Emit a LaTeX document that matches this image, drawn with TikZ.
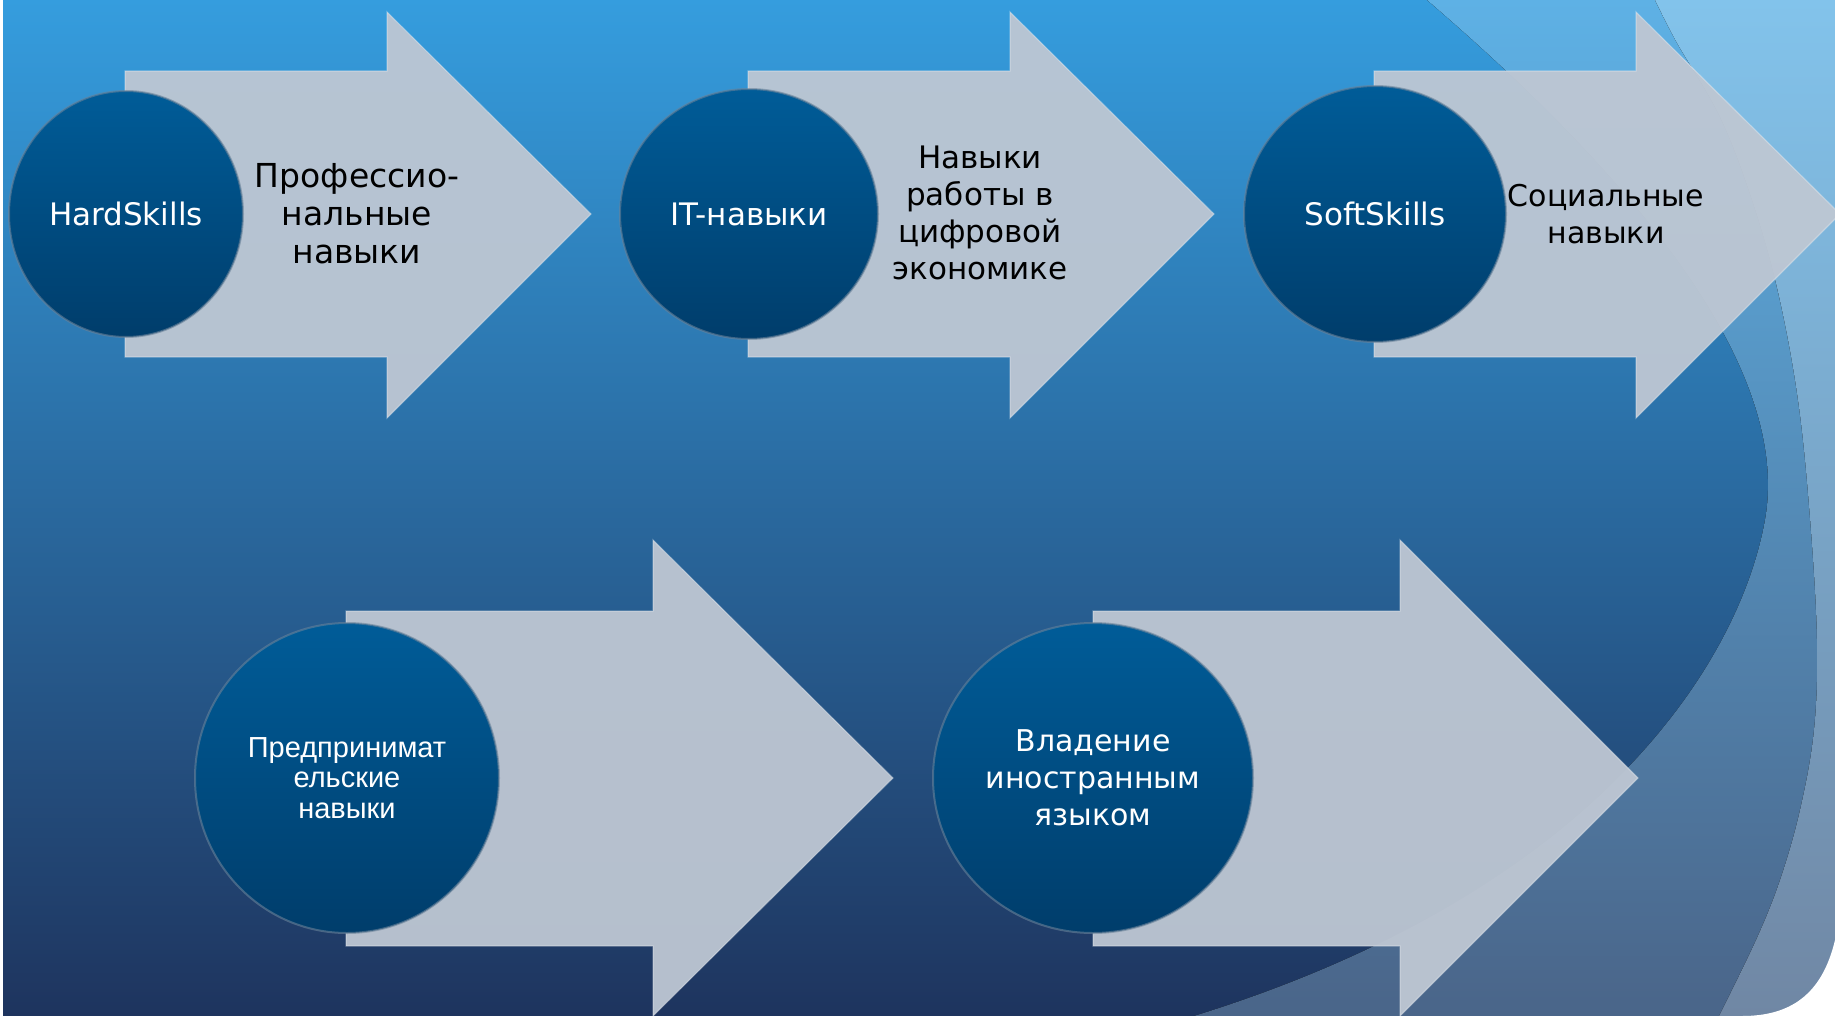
\documentclass[tikz,border=0pt]{standalone}
\usepackage{fontspec}
\usetikzlibrary{shapes.geometric}
\newfontfamily\tfont{DejaVu Sans}
\newfontfamily\afont{Liberation Sans}
\definecolor{bgtop}{HTML}{359DDE}
\definecolor{bgbot}{HTML}{1E345E}
\definecolor{rtwotop}{HTML}{5EB1E5}
\definecolor{rtwobot}{HTML}{4A6589}
\definecolor{rthreetop}{HTML}{82C3EB}
\definecolor{rthreebot}{HTML}{7087A4}
\definecolor{arrowfill}{HTML}{BEC7D3}
\definecolor{circtop}{HTML}{005C98}
\definecolor{circbot}{HTML}{003D6B}
\definecolor{circrim}{HTML}{6A8299}
\tikzset{
  bigarrow/.style={fill=arrowfill, fill opacity=0.95, draw=white, draw opacity=0.3, line width=1.2pt},
  skill/.style={ellipse, inner sep=0pt, top color=circtop, bottom color=circbot, draw=circrim, draw opacity=0.6, line width=2pt, text=white, align=center},
  tahoma/.style={font=\tfont\fontsize{31}{37}\selectfont},
  arial/.style={font=\afont\fontsize{29}{30.5}\selectfont},
  armtext/.style={text=black, align=center, inner sep=0pt, tahoma}
}
\begin{document}
\begin{tikzpicture}[x=1pt,y=-1pt]
\useasboundingbox (0,0) rectangle (1835,1016);
% background
\fill[top color=bgtop, bottom color=bgbot] (0,0) rectangle (1835,1016);
\fill[top color=rtwotop, bottom color=rtwobot] (1835,0) -- (1427,0) .. controls (1660,200) and (1790,380) .. (1765,520) .. controls (1740,660) and (1600,890) .. (1194,1016) -- (1835,1016) -- cycle;
\fill[top color=rthreetop, bottom color=rthreebot] (1835,0) -- plot[smooth, tension=0.6] coordinates {(1655,0) (1677,43) (1720,117) (1752,200) (1778,292) (1798,400) (1810,518) (1817,640) (1814,730) (1800,810) (1780,880) (1756,940) (1719,1016)} -- (1835,1016) -- cycle;
\fill[white] (1835,940) .. controls (1822,995) and (1790,1016) .. (1742,1016) -- (1835,1016) -- cycle;
\fill[white] (0,0) rectangle (3,1016);
% arrows
\draw[bigarrow] (125,71) -- (387,71) -- (387,12) -- (591,214) -- (387,418) -- (387,357) -- (125,357) -- cycle;
\draw[bigarrow] (748,71) -- (1010,71) -- (1010,12) -- (1214,214) -- (1010,418) -- (1010,357) -- (748,357) -- cycle;
\draw[bigarrow] (1374,71) -- (1636,71) -- (1636,12) -- (1840,214) -- (1636,418) -- (1636,357) -- (1374,357) -- cycle;
\draw[bigarrow] (346,611) -- (653,611) -- (653,540) -- (893,778) -- (653,1016) -- (653,946) -- (346,946) -- cycle;
\draw[bigarrow] (1093,611) -- (1400,611) -- (1400,540) -- (1638,778) -- (1400,1016) -- (1400,946) -- (1093,946) -- cycle;
% circles
\node[skill, tahoma, minimum width=234pt, minimum height=246pt] (hard) at (126,214) {HardSkills};
\node[skill, tahoma, minimum width=258pt, minimum height=250pt] (it) at (749,214) {IT-навыки};
\node[skill, tahoma, minimum width=262pt, minimum height=256pt] (soft) at (1375,214) {SoftSkills};
\node[skill, arial, minimum width=304pt, minimum height=310pt] (entr) at (347,778) {Предпринимат\\ельские\\навыки};
\node[skill, font=\tfont\fontsize{30}{37}\selectfont, minimum width=320pt, minimum height=310pt] (lang) at (1093,778) {Владение\\иностранным\\языком};
% arrow texts
\node[armtext, font=\tfont\fontsize{33}{38}\selectfont] (prof) at (357,214) {Профессио-\\нальные\\навыки};
\node[armtext] (digit) at (980,213) {Навыки\\работы в\\цифровой\\экономике};
\node[armtext, font=\tfont\fontsize{30}{37}\selectfont] (social) at (1606,214) {Социальные\\навыки};
\end{tikzpicture}
\end{document}
